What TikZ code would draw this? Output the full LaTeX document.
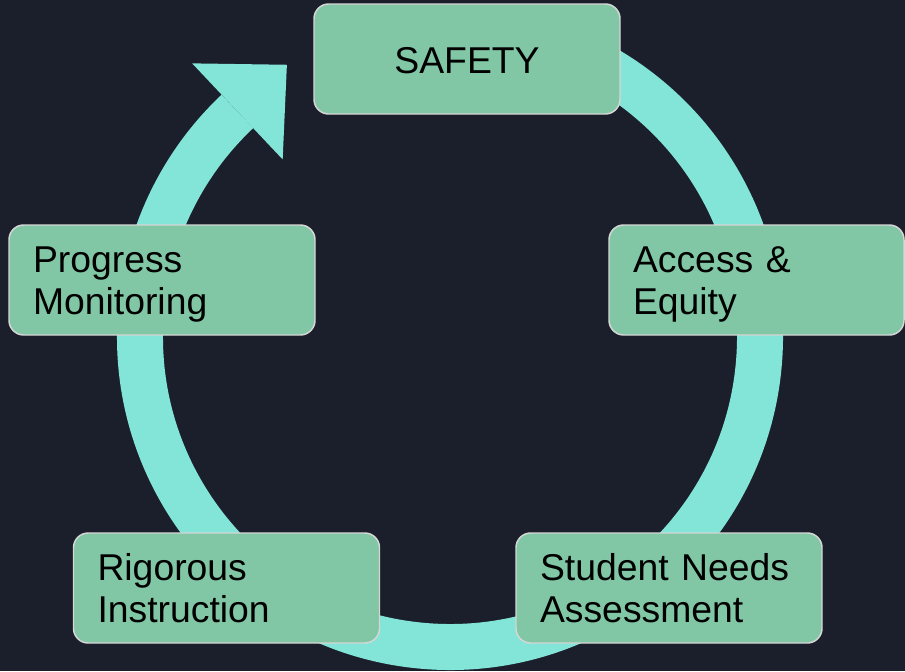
\documentclass[tikz,border=0pt]{standalone}
\usepackage{fontspec}
\setmainfont{Liberation Sans}
\usepackage{tikz}
\usetikzlibrary{calc}
\definecolor{bgdark}{HTML}{1B1F2B}
\definecolor{ringcyan}{HTML}{83E4D8}
\definecolor{boxgreen}{HTML}{81C7A5}
\definecolor{boxedge}{HTML}{D6D6D6}
\tikzset{stage/.style={draw=boxedge,line width=1.1pt,fill=boxgreen,rounded corners=11pt,minimum height=82.5pt,inner xsep=18pt,inner ysep=0pt,text height=20pt,text depth=32pt,align=left,text width=193.5pt,font=\fontsize{28}{32}\selectfont}}

\begin{document}
\begin{tikzpicture}[x=0.75pt,y=-0.75pt]
	\fill[bgdark] (0,0) rectangle (905,671);
	\useasboundingbox (0,0) rectangle (905,671);
	\coordinate (hub) at (450,337);
	% ring and its head
	\draw[ringcyan,line width=34.5pt] ($(hub)+(-85:310)$) arc[start angle=-85,end angle=226.7,radius=310];
	\coordinate (headbase) at ($(hub)+(226.7:310)$);
	\fill[ringcyan] ($(headbase)+(226.7:66)$) -- ($(headbase)+(316.7:68)$) -- ($(headbase)+(46.7:66)$) -- cycle;
	% stages
	\node[stage,align=center,text height=21pt,text depth=0pt] (safety) at (467,59) {SAFETY};
	\node[stage,text width=185.25pt] (access) at (756.5,280) {Access \&\\Equity};
	\node[stage] (progress) at (162,280) {Progress\\Monitoring};
	\node[stage] (rigorous) at (226.5,588) {Rigorous\\Instruction};
	\node[stage] (needs) at (669,588) {Student Needs\\Assessment};
\end{tikzpicture}
\end{document}
